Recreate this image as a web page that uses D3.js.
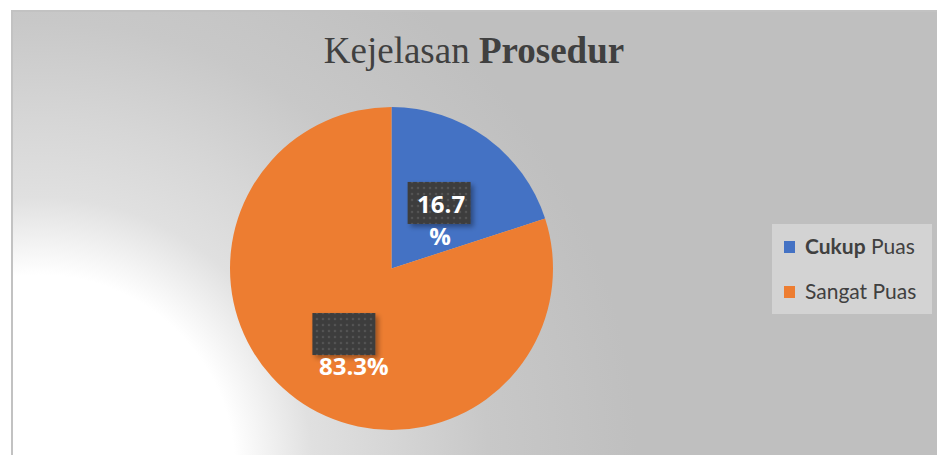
<!DOCTYPE html>
<html>
<head>
<meta charset="utf-8">
<script src="https://cdn.jsdelivr.net/npm/d3@7"></script>
<style>
  html, body { margin: 0; padding: 0; background: #fff; }
  svg { display: block; }
</style>
</head>
<body>
<svg id="chart" width="937" height="455"></svg>
<script>
// data
const categories = ['Cukup Puas', 'Sangat Puas'];
const boldWord = ['Cukup', ''];
const sliceShare = [20, 80];          // drawn angle of each slice
const labelText = ['16.7%', '83.3%']; // printed data labels
const colors = ['#4472c4', '#ed7d31'];

const svg = d3.select('#chart');
const width = 937, height = 455;
const defs = svg.append('defs');

// background: white corner at bottom left fading to grey
const grad = defs.append('radialGradient')
	.attr('id', 'bg')
	.attr('gradientUnits', 'userSpaceOnUse')
	.attr('cx', 40).attr('cy', 470).attr('r', 650);
[[0, '#ffffff'], [0.3, '#ffffff'], [0.42, '#e0e0e0'], [0.54, '#d6d6d6'], [0.69, '#c8c8c8'], [0.92, '#bfbfbf'], [1, '#bfbfbf']]
	.forEach(s => grad.append('stop').attr('offset', s[0]).attr('stop-color', s[1]));

// dotted texture for label boxes
const pat = defs.append('pattern')
	.attr('id', 'dots')
	.attr('patternUnits', 'userSpaceOnUse')
	.attr('width', 6).attr('height', 6);
pat.append('rect').attr('width', 6).attr('height', 6).attr('fill', '#3d3d3d');
pat.append('circle').attr('cx', 3).attr('cy', 3).attr('r', 1.2).attr('fill', '#545454');

const shadow = defs.append('filter').attr('id', 'shadow')
	.attr('x', '-20%').attr('y', '-20%').attr('width', '150%').attr('height', '160%');
shadow.append('feDropShadow')
	.attr('dx', 3).attr('dy', 3).attr('stdDeviation', 2.5)
	.attr('flood-color', '#000').attr('flood-opacity', 0.35);

svg.append('rect')
	.attr('x', 12).attr('y', 11)
	.attr('width', width).attr('height', height)
	.attr('fill', 'url(#bg)')
	.attr('stroke', '#c2c2c2')
	.attr('stroke-width', 2);

// title
const title = svg.append('text')
	.attr('x', 474).attr('y', 63)
	.attr('text-anchor', 'middle')
	.attr('font-family', '"Liberation Serif", "Times New Roman", serif')
	.attr('font-size', 37)
	.attr('fill', '#404040');
title.append('tspan').text('Kejelasan ');
title.append('tspan').attr('font-weight', 'bold').text('Prosedur');

// pie
const cx = 391.5, cy = 268.5, radius = 161.5;
const pie = d3.pie().sort(null).value(d => d)(sliceShare);
const arc = d3.arc().innerRadius(0).outerRadius(radius);
const labelArc = d3.arc().innerRadius(81).outerRadius(81);

const g = svg.append('g').attr('transform', `translate(${cx},${cy})`);

g.selectAll('path.slice')
	.data(pie)
	.join('path')
	.attr('class', 'slice')
	.attr('d', arc)
	.attr('fill', (d, i) => colors[i]);

// data labels: textured box with the text sitting a bit below it
const boxW = 63, boxH = 42;
const labels = g.selectAll('g.lbl')
	.data(pie)
	.join('g')
	.attr('class', 'lbl')
	.attr('transform', d => `translate(${labelArc.centroid(d)})`);

labels.append('rect')
	.attr('x', -boxW / 2).attr('y', -boxH / 2)
	.attr('width', boxW).attr('height', boxH)
	.attr('fill', 'url(#dots)')
	.attr('filter', 'url(#shadow)');

const lblFont = '"Open Sans", "Liberation Sans", sans-serif';
const lblSize = 24;

// first label wraps onto two lines, second stays on one line
labels.filter((d, i) => i === 0).each(function() {
	const t = labelText[0];
	const sel = d3.select(this);
	sel.append('text')
		.attr('x', 2).attr('y', 10)
		.attr('text-anchor', 'middle')
		.attr('font-family', lblFont).attr('font-weight', 'bold')
		.attr('font-size', lblSize).attr('fill', '#fff')
		.text(t.slice(0, -1));
	sel.append('text')
		.attr('x', 1).attr('y', 42)
		.attr('text-anchor', 'middle')
		.attr('font-family', lblFont).attr('font-weight', 'bold')
		.attr('font-size', lblSize).attr('fill', '#fff')
		.text('%');
});
labels.filter((d, i) => i === 1).append('text')
	.attr('x', 10).attr('y', 41)
	.attr('text-anchor', 'middle')
	.attr('font-family', lblFont).attr('font-weight', 'bold')
	.attr('font-size', lblSize).attr('fill', '#fff')
	.text(labelText[1]);

// legend
const legend = svg.append('g').attr('transform', 'translate(772,224)');
legend.append('rect')
	.attr('width', 160).attr('height', 90)
	.attr('fill', '#d3d3d3');

const items = legend.selectAll('g.item')
	.data(categories)
	.join('g')
	.attr('class', 'item')
	.attr('transform', (d, i) => `translate(12,${23 + i * 45})`);

items.append('rect')
	.attr('x', 0).attr('y', -6)
	.attr('width', 11).attr('height', 12)
	.attr('fill', (d, i) => colors[i]);

items.append('text')
	.attr('x', 21).attr('y', 7)
	.attr('font-family', 'Lato, "Open Sans", sans-serif')
	.attr('font-size', 21)
	.attr('fill', '#404040')
	.each(function(d, i) {
		const t = d3.select(this);
		if (boldWord[i]) {
			t.append('tspan').attr('font-weight', 'bold').text(boldWord[i]);
			t.append('tspan').text(d.slice(boldWord[i].length));
		} else {
			t.text(d);
		}
	});
</script>
</body>
</html>
